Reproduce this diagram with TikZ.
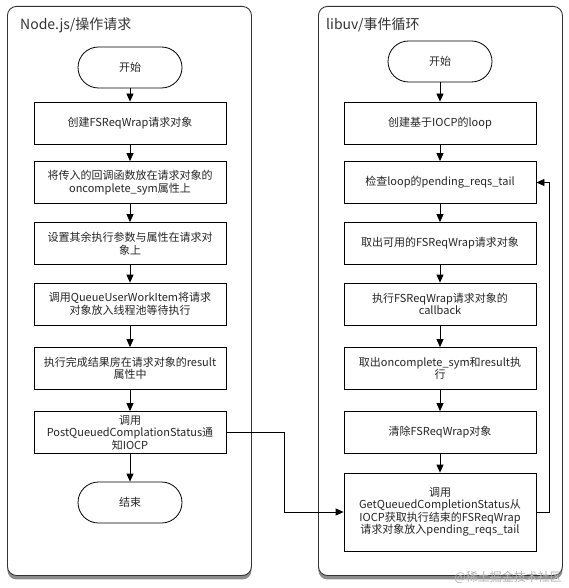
\documentclass[tikz,border=0pt]{standalone}
\usepackage{fontspec}
\setmainfont{Noto Sans CJK SC}
\usetikzlibrary{arrows.meta,shadows,positioning}
\tikzset{
  panel/.style={draw=black!80, line width=0.9pt, rounded corners=9pt, fill=white,
     drop shadow={shadow xshift=0pt, shadow yshift=-4pt, opacity=0.6, fill=black!75}},
  stepbox/.style={draw, line width=0.8pt, minimum width=192pt, minimum height=42pt, inner sep=1pt,
     align=center, font=\fontsize{11}{12.5}\selectfont, text=black!85},
  bigbox/.style={stepbox, minimum height=78pt},
  term/.style={draw, line width=0.8pt, minimum width=104pt, minimum height=41pt, rounded corners=20.5pt,
     font=\fontsize{11}{12.5}\selectfont, text=black!85},
  flow/.style={line width=0.8pt, -{Triangle[length=8pt,width=7pt]}},
  title/.style={anchor=west, font=\fontsize{14}{16}\selectfont, text=black!80, inner sep=0pt}
}
\begin{document}
\begin{tikzpicture}[x=1pt,y=-1pt]
\useasboundingbox (0,0) rectangle (569,588);
% panels
\node[panel, minimum width=244pt, minimum height=569pt, anchor=north west] (lp) at (7,6) {};
\node[panel, minimum width=244pt, minimum height=569pt, anchor=north west] (rp) at (318,6) {};
\node[title] (lt) at (20,25) {Node.js/操作请求};
\node[title] (rt) at (326,25) {libuv/事件循环};
% left column
\node[term] (a0) at (130,67.5) {开始};
\node[stepbox] (a1) at (130,123) {创建FSReqWrap请求对象};
\node[stepbox] (a2) at (130,182.5) {将传入的回调函数放在请求对象的\\oncomplete\_sym属性上};
\node[stepbox] (a3) at (130,243.5) {设置其余执行参数与属性在请求对\\象上};
\node[stepbox] (a4) at (130,304) {调用QueueUserWorkItem将请求\\对象放入线程池等待执行};
\node[stepbox] (a5) at (130,368.5) {执行完成结果房在请求对象的result\\属性中};
\node[stepbox] (a6) at (130,432.5) {调用\\PostQueuedComplationStatus通\\知IOCP};
\node[term] (a7) at (130,502.5) {结束};
% right column
\node[term] (b0) at (440,61.5) {开始};
\node[stepbox] (b1) at (440,123) {创建基于IOCP的loop};
\node[stepbox] (b2) at (440,182.5) {检查loop的pending\_reqs\_tail};
\node[stepbox] (b3) at (440,243.5) {取出可用的FSReqWrap请求对象};
\node[stepbox] (b4) at (440,304) {执行FSReqWrap请求对象的\\callback};
\node[stepbox] (b5) at (440,368.5) {取出oncomplete\_sym和result执\\行};
\node[stepbox] (b6) at (440,432.5) {清除FSReqWrap对象};
\node[bigbox] (b7) at (440,512) {调用\\GetQueuedCompletionStatus从\\IOCP获取执行结束的FSReqWrap\\请求对象放入pending\_reqs\_tail};
% arrows
\foreach \p/\q in {a0/a1,a1/a2,a2/a3,a3/a4,a4/a5,a5/a6,a6/a7,b0/b1,b1/b2,b2/b3,b3/b4,b4/b5,b5/b6,b6/b7}
  \draw[flow] (\p) -- (\q);
\coordinate (c1) at (284,432.5);
\coordinate (c2) at (549,512);
\draw[flow] (a6.east) -- (c1) |- (b7.west);
\draw[flow] (b7.east) -- (c2) |- (b2.east);
% watermark
\node[anchor=east, text=black!30, font=\fontsize{12}{14}\selectfont, inner sep=0pt] (wm) at (562,577) {@稀土掘金技术社区};
\end{tikzpicture}
\end{document}
